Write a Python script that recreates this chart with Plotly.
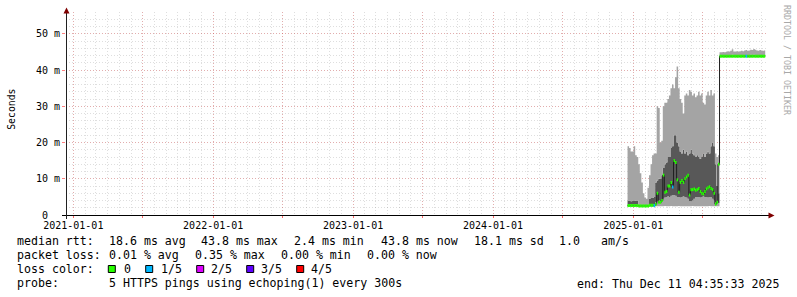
import plotly.graph_objects as go
import pandas as pd

# ---------------- data (values in ms) ----------------
dates = list(pd.date_range("2024-12-17", periods=90, freq="4D")) + [pd.Timestamp("2025-12-11 04:35:33")]

rtt_max = [19.0, 18.5, 17.5, 17.5, 19.0, 16.5, 16.0, 14.0, 11.5, 9.0,
           6.0, 4.8, 4.5, 7.5, 11.0, 14.0, 16.5, 17.0, 17.0, 30.0,
           29.5, 20.0, 20.5, 30.0, 31.0, 31.0, 32.0, 33.0, 35.0, 36.0,
           35.0, 38.0, 41.0, 35.0, 32.0, 31.0, 28.0, 33.0, 33.5, 33.0,
           34.5, 34.0, 33.0, 33.5, 32.5, 33.0, 34.0, 33.0, 33.5, 31.0,
           30.5, 33.0, 34.0, 33.0, 34.5, 33.0, 33.5, 17.0, 16.0, 16.5,
           44.9, 44.9, 45.0, 44.9, 45.0, 45.2, 45.1, 45.3, 45.7, 45.1,
           45.1, 45.2, 45.1, 45.2, 45.3, 45.2, 45.4, 45.5, 45.3, 45.4,
           45.6, 45.5, 45.8, 45.6, 45.4, 45.3, 45.5, 45.4, 45.3, 45.4, 45.4]

rtt_high = [4.0, 4.0, 3.8, 4.0, 4.0, 3.9, 4.0, 2.9, 2.9, 2.9,
            2.9, 2.9, 2.9, 2.9, 4.5, 4.7, 4.7, 5.0, 9.0, 9.5,
            10.0, 10.0, 11.0, 13.0, 14.0, 14.5, 16.0, 16.0, 18.5, 19.0,
            22.0, 22.0, 20.0, 19.0, 17.5, 17.0, 18.0, 17.0, 17.5, 16.5,
            17.0, 18.0, 17.0, 16.5, 16.0, 16.5, 16.0, 15.5, 16.0, 17.0,
            16.0, 17.0, 17.5, 17.0, 19.0, 20.0, 19.0, 14.0, 8.0, 6.0,
            44.0, 44.1, 44.0, 44.0, 44.1, 44.0, 44.0, 44.1, 44.2, 44.0,
            44.0, 44.1, 44.0, 44.0, 44.1, 44.0, 44.1, 44.1, 44.0, 44.1,
            44.2, 44.1, 44.2, 44.1, 44.0, 44.0, 44.1, 44.1, 44.0, 44.1, 44.1]

rtt_low = [2.9, 2.9, 2.9, 2.9, 2.9, 2.9, 2.9, 2.7, 2.7, 2.7,
           2.7, 2.7, 2.7, 2.7, 2.9, 2.9, 2.9, 2.9, 3.5, 3.8,
           4.0, 3.8, 4.0, 4.5, 4.8, 5.0, 5.2, 5.0, 5.3, 5.5,
           5.5, 5.3, 5.0, 5.0, 4.8, 5.0, 5.2, 5.0, 4.8, 4.5,
           3.8, 3.8, 4.0, 4.5, 5.0, 5.0, 5.0, 4.8, 5.0, 5.2,
           5.0, 5.0, 4.8, 5.0, 5.0, 4.5, 4.0, 3.5, 3.3, 3.3,
           43.7, 43.7, 43.7, 43.6, 43.7, 43.7, 43.7, 43.7, 43.6, 43.7,
           43.7, 43.7, 43.7, 43.6, 43.7, 43.7, 43.7, 43.7, 43.7, 43.6,
           43.7, 43.7, 43.7, 43.7, 43.7, 43.6, 43.7, 43.7, 43.7, 43.7, 43.7]

rtt_min = [2.3, 2.3, 2.3, 2.3, 2.3, 2.3, 2.3, 2.3, 2.3, 2.3,
           2.3, 2.3, 2.3, 2.3, 2.3, 2.3, 2.3, 2.3, 2.4, 2.4,
           2.4, 2.4, 2.4, 2.4, 2.5, 2.4, 2.4, 2.4, 2.5, 2.4,
           2.4, 2.4, 2.4, 2.5, 2.4, 2.4, 2.4, 2.4, 2.4, 2.4,
           2.4, 2.4, 2.5, 2.4, 2.4, 2.4, 2.4, 2.4, 2.4, 2.4,
           2.4, 2.4, 2.4, 2.5, 2.4, 2.4, 2.4, 2.4, 2.4, 2.4,
           43.5, 43.6, 43.5, 43.5, 43.6, 43.5, 43.6, 43.5, 43.5, 43.6,
           43.5, 43.5, 43.6, 43.5, 43.5, 43.6, 43.5, 43.5, 43.5, 43.6,
           43.5, 43.5, 43.6, 43.5, 43.5, 43.5, 43.6, 43.5, 43.5, 43.6, 43.6]

rtt_median = [2.6, 2.6, 2.6, 2.6, 2.6, 2.6, 2.6, 2.5, 2.5, 2.5,
              2.5, 2.5, 2.5, 2.5, 2.7, 2.7, 2.7, 2.6, 3.0, 6.0,
              3.5, 3.5, 4.0, 11.0, 6.3, 6.5, 8.0, 8.0, 9.0, 7.7,
              15.0, 14.5, 9.7, 6.3, 9.0, 9.5, 9.0, 10.0, 10.5, 11.0,
              5.5, 7.0, 7.0, 7.2, 6.8, 7.0, 7.3, 6.5, 6.0, 5.8,
              6.5, 7.2, 7.5, 7.8, 7.3, 7.0, 6.0, 3.0, 3.5, 14.0,
              43.8, 43.8, 43.8, 43.8, 43.8, 43.8, 43.8, 43.8, 43.8, 43.8,
              43.8, 43.8, 43.8, 43.8, 43.8, 43.8, 43.8, 43.8, 43.8, 43.8,
              43.8, 43.8, 43.8, 43.8, 43.8, 43.8, 43.8, 43.8, 43.8, 43.8, 43.8]

lost_pings = [0, 0, 0, 0, 0, 0, 0, 0, 0, 0,
              0, 0, 0, 0, 0, 0, 0, 1, 0, 0,
              0, 0, 0, 0, 0, 0, 0, 0, 0, 1,
              0, 0, 0, 0, 0, 0, 0, 0, 0, 0,
              0, 0, 0, 0, 0, 0, 0, 0, 0, 0,
              0, 0, 0, 0, 0, 0, 0, 0, 0, 0,
              0, 0, 0, 0, 0, 0, 0, 0, 0, 0,
              0, 0, 0, 0, 0, 0, 0, 1, 0, 0,
              0, 0, 0, 0, 0, 0, 0, 0, 0, 0, 0]

loss_labels = ["0", "1/5", "2/5", "3/5", "4/5"]
loss_colors = ["#26ff00", "#00b8ff", "#dd00ff", "#5e00ff", "#ff0000"]

x_tickvals = ["2021-01-01", "2021-07-01", "2022-01-01", "2022-07-01", "2023-01-01",
              "2023-07-01", "2024-01-01", "2024-07-01", "2025-01-01", "2025-07-01"]
x_ticktext = ["2021-01-01", "", "2022-01-01", "", "2023-01-01",
              "", "2024-01-01", "", "2025-01-01", ""]
y_tickvals = [0, 10, 20, 30, 40, 50]
y_ticktext = ["0\u00a0\u00a0", "10 m", "20 m", "30 m", "40 m", "50 m"]

legend_rows = [
    [(16, "median rtt:"), (108, "18.6 ms avg"), (200, "43.8 ms max"), (293, "2.4 ms min"),
     (380, "43.8 ms now"), (472.5, "18.1 ms sd"), (558, "1.0"), (600, "am/s")],
    [(16, "packet loss:"), (108, "0.01 % avg"), (193.5, "0.35 % max"), (279.5, "0.00 % min"),
     (366, "0.00 % now")],
    [(16, "loss color:")],
    [(16, "probe:"), (108, "5 HTTPS pings using echoping(1) every 300s")],
]
legend_row_y = [241, 255, 269, 283.3]
loss_square_x = [108.3, 145.7, 196.7, 246.7, 296.7]
loss_label_x = [123.3, 160, 210, 260, 310]

# ---------------- layout geometry ----------------
FW, FH = 797, 297
L, R, T, B = 66, 766, 12, 215
W, H = R - L, B - T


def px(x):
    return (x - L) / W


def py(y):
    return (B - y) / H


MONO = "DejaVu Sans Mono"
LIGHT = "#a4a4a4"
DARK = "#585858"

fig = go.Figure()

# smoke
fig.add_trace(go.Scatter(x=dates, y=rtt_min, mode="lines", line=dict(width=0, shape="hv"),
                         hoverinfo="skip"))
fig.add_trace(go.Scatter(x=dates, y=rtt_low, mode="lines", line=dict(width=0, shape="hv"),
                         fill="tonexty", fillcolor=LIGHT, hoverinfo="skip"))
fig.add_trace(go.Scatter(x=dates, y=rtt_high, mode="lines", line=dict(width=0, shape="hv"),
                         fill="tonexty", fillcolor=DARK, hoverinfo="skip"))
fig.add_trace(go.Scatter(x=dates, y=rtt_max, mode="lines", line=dict(width=0, shape="hv"),
                         fill="tonexty", fillcolor=LIGHT, hoverinfo="skip"))
# thin median line
fig.add_trace(go.Scatter(x=dates, y=rtt_median, mode="lines",
                         line=dict(color="#202020", width=1, shape="hv"), hoverinfo="skip"))
# loss-coloured median blobs
for lvl, col in enumerate(loss_colors):
    sx, sy = [], []
    for k in range(len(dates) - 1):
        if lost_pings[k] == lvl:
            sx += [dates[k], dates[k + 1], None]
            sy += [rtt_median[k], rtt_median[k], None]
    if sx:
        fig.add_trace(go.Scatter(x=sx, y=sy, mode="lines", line=dict(color=col, width=3),
                                 connectgaps=False, hoverinfo="skip"))

MGRID = "rgba(235,60,60,0.30)"
GRID = "rgba(128,128,128,0.26)"
DASH = "1px,2px"

fig.update_layout(
    width=FW, height=FH, margin=dict(l=L, r=FW - R, t=T, b=FH - B),
    paper_bgcolor="white", plot_bgcolor="white", showlegend=False,
    xaxis=dict(type="date", range=["2020-12-12 23:00", "2025-12-13 06:00"],
               tickmode="array", tickvals=x_tickvals, ticktext=x_ticktext,
               showgrid=True, gridcolor=MGRID, griddash=DASH, gridwidth=1,
               ticks="outside", ticklen=2, tickcolor="rgba(255,0,0,0.6)",
               ticklabelstandoff=-1,
               tickfont=dict(family=MONO, size=10, color="#000"),
               minor=dict(dtick="M1", tick0="2021-01-01", showgrid=True, gridcolor=GRID,
                          griddash=DASH, gridwidth=1, ticks=""),
               showline=False, zeroline=False, fixedrange=True),
    yaxis=dict(range=[0, 56], tickmode="array", tickvals=y_tickvals, ticktext=y_ticktext,
               showgrid=True, gridcolor=MGRID, griddash=DASH, gridwidth=1,
               ticks="outside", ticklen=3, tickcolor="rgba(255,0,0,0.5)",
               tickfont=dict(family=MONO, size=10, color="#000"),
               minor=dict(dtick=2, tick0=0, showgrid=True, gridcolor=GRID,
                          griddash=DASH, gridwidth=1, ticks=""),
               showline=False, zeroline=False, fixedrange=True),
)

shapes = []
# axis lines
shapes.append(dict(type="line", xref="paper", yref="paper", x0=px(62), x1=px(770),
                   y0=py(215.5), y1=py(215.5), line=dict(color="#000000", width=1)))
shapes.append(dict(type="line", xref="paper", yref="paper", x0=px(66.5), x1=px(66.5),
                   y0=py(219), y1=py(11), line=dict(color="#202020", width=1)))
# arrows
up = [(63.5, 13.5), (69.5, 13.5), (66.5, 7.5)]
rt = [(768.5, 212.5), (768.5, 218.5), (774.5, 215.5)]
for tri in (up, rt):
    path = "M {},{} L {},{} L {},{} Z".format(px(tri[0][0]), py(tri[0][1]), px(tri[1][0]), py(tri[1][1]),
                                              px(tri[2][0]), py(tri[2][1]))
    shapes.append(dict(type="path", xref="paper", yref="paper", path=path,
                       fillcolor="#7f0000", line=dict(color="#7f0000", width=0)))
# loss colour squares
for xs, col in zip(loss_square_x, loss_colors):
    shapes.append(dict(type="rect", xref="paper", yref="paper", x0=px(xs), x1=px(xs + 7),
                       y0=py(272.5), y1=py(265.5), fillcolor=col, line=dict(color="#000", width=1)))
fig.update_layout(shapes=shapes)

ann = []
LEG_SIZE = 11.6
for row, yy in zip(legend_rows, legend_row_y):
    for xx, txt in row:
        ann.append(dict(x=px(xx - 1), y=py(yy), xref="paper", yref="paper", text=txt,
                        showarrow=False, xanchor="left", yanchor="middle",
                        font=dict(family=MONO, size=LEG_SIZE, color="#000")))
for xx, txt in zip(loss_label_x, loss_labels):
    ann.append(dict(x=px(xx - 1), y=py(269), xref="paper", yref="paper", text=txt,
                    showarrow=False, xanchor="left", yanchor="middle",
                    font=dict(family=MONO, size=LEG_SIZE, color="#000")))
ann.append(dict(x=px(781), y=py(284), xref="paper", yref="paper",
                text="end: Thu Dec 11 04:35:33 2025", showarrow=False,
                xanchor="right", yanchor="middle",
                font=dict(family=MONO, size=LEG_SIZE, color="#000")))
ann.append(dict(x=px(10.8), y=py(109), xref="paper", yref="paper", text="Seconds",
                showarrow=False, textangle=-90, xanchor="center", yanchor="middle",
                font=dict(family=MONO, size=9.8, color="#000")))
ann.append(dict(x=px(787), y=py(60), xref="paper", yref="paper", text="RRDTOOL / TOBI OETIKER",
                showarrow=False, textangle=90, xanchor="center", yanchor="middle",
                font=dict(family=MONO, size=8.3, color="#a8a8a8")))
fig.update_layout(annotations=ann)

fig.write_html("out.html")
